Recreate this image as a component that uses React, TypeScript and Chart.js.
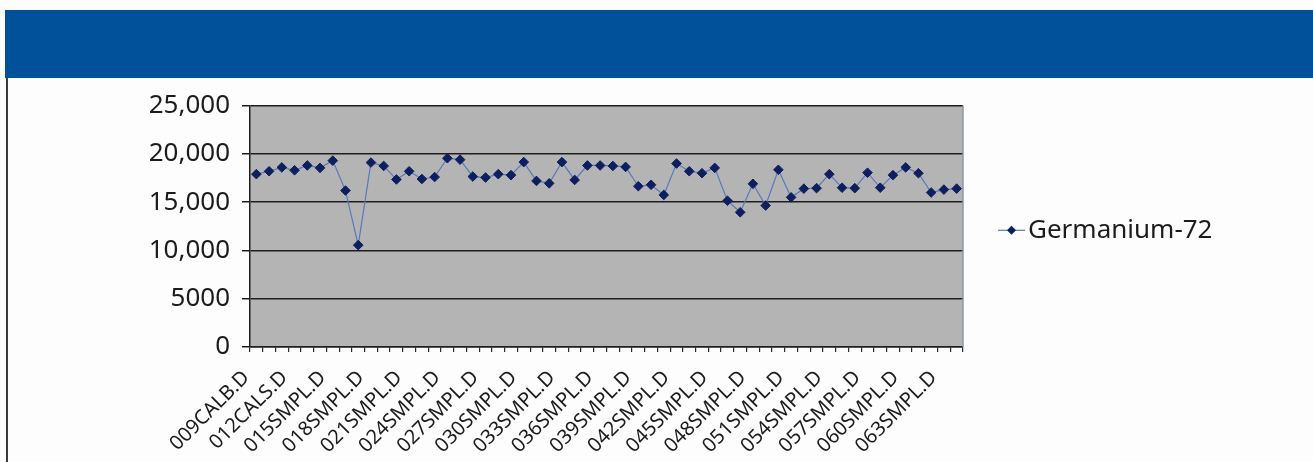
import React, { useEffect, useRef } from "react";
import { Chart, registerables } from "chart.js";

Chart.register(...registerables);

const seriesName = "Germanium-72";

const categories = [
  "009CALB.D", "010CALB.D", "011CALB.D", "012CALS.D", "013CALS.D", "014CALS.D",
  "015SMPL.D", "016SMPL.D", "017SMPL.D", "018SMPL.D", "019SMPL.D", "020SMPL.D",
  "021SMPL.D", "022SMPL.D", "023SMPL.D", "024SMPL.D", "025SMPL.D", "026SMPL.D",
  "027SMPL.D", "028SMPL.D", "029SMPL.D", "030SMPL.D", "031SMPL.D", "032SMPL.D",
  "033SMPL.D", "034SMPL.D", "035SMPL.D", "036SMPL.D", "037SMPL.D", "038SMPL.D",
  "039SMPL.D", "040SMPL.D", "041SMPL.D", "042SMPL.D", "043SMPL.D", "044SMPL.D",
  "045SMPL.D", "046SMPL.D", "047SMPL.D", "048SMPL.D", "049SMPL.D", "050SMPL.D",
  "051SMPL.D", "052SMPL.D", "053SMPL.D", "054SMPL.D", "055SMPL.D", "056SMPL.D",
  "057SMPL.D", "058SMPL.D", "059SMPL.D", "060SMPL.D", "061SMPL.D", "062SMPL.D",
  "063SMPL.D", "064SMPL.D",
];

const germanium72 = [
  17900, 18200, 18600, 18300, 18800, 18550, 19300, 16200, 10550, 19100,
  18750, 17350, 18200, 17400, 17600, 19550, 19400, 17650, 17550, 17900,
  17800, 19150, 17200, 16950, 19150, 17300, 18800, 18800, 18750, 18650,
  16650, 16800, 15750, 19000, 18200, 18000, 18550, 15150, 13950, 16900,
  14650, 18350, 15500, 16400, 16450, 17900, 16500, 16450, 18050, 16500,
  17800, 18600, 18000, 16000, 16300, 16400,
];

const yTickValues = [0, 5000, 10000, 15000, 20000, 25000];
const yTickLabels = ["0", "5000", "10,000", "15,000", "20,000", "25,000"];

const FONT = "'Noto Sans', 'Open Sans', sans-serif";
const TEXT = "#1c1c1c";
const LINE_COLOR = "#5a78bc";
const MARKER_COLOR = "#0d1f5e";

const plotBg = {
  id: "plotBg",
  beforeDraw(chart: any) {
    const { ctx, chartArea } = chart;
    ctx.save();
    ctx.fillStyle = "#b4b4b4";
    ctx.fillRect(chartArea.left, chartArea.top, chartArea.right - chartArea.left, chartArea.bottom - chartArea.top);
    ctx.restore();
  },
  beforeDatasetsDraw(chart: any) {
    const { ctx, chartArea } = chart;
    ctx.save();
    ctx.strokeStyle = "#8a98a6";
    ctx.lineWidth = 1.5;
    ctx.beginPath();
    ctx.moveTo(chartArea.right, chartArea.top);
    ctx.lineTo(chartArea.right, chartArea.bottom);
    ctx.stroke();
    ctx.restore();
  },
};

const customLegend = {
  id: "customLegend",
  afterDraw(chart: any) {
    const { ctx, chartArea } = chart;
    const cy = (chartArea.top + chartArea.bottom) / 2 + 4;
    const x0 = chartArea.right + 35;
    ctx.save();
    ctx.strokeStyle = LINE_COLOR;
    ctx.lineWidth = 1.2;
    ctx.beginPath();
    ctx.moveTo(x0, cy);
    ctx.lineTo(x0 + 27, cy);
    ctx.stroke();
    const mx = x0 + 13.5;
    const r = 4.5;
    ctx.fillStyle = MARKER_COLOR;
    ctx.beginPath();
    ctx.moveTo(mx, cy - r);
    ctx.lineTo(mx + r, cy);
    ctx.lineTo(mx, cy + r);
    ctx.lineTo(mx - r, cy);
    ctx.closePath();
    ctx.fill();
    ctx.fillStyle = TEXT;
    ctx.font = `26px ${FONT}`;
    ctx.textAlign = "left";
    ctx.textBaseline = "middle";
    ctx.fillText(seriesName, x0 + 30, cy);
    ctx.restore();
  },
};

export default function App() {
  const canvasRef = useRef<HTMLCanvasElement | null>(null);

  useEffect(() => {
    document.body.style.margin = "0";
    const canvas = canvasRef.current;
    if (!canvas) return;
    const chart = new Chart(canvas, {
      type: "line",
      data: {
        labels: categories,
        datasets: [
          {
            label: seriesName,
            data: germanium72,
            borderColor: LINE_COLOR,
            borderWidth: 1.2,
            backgroundColor: MARKER_COLOR,
            pointStyle: "rectRot",
            pointRadius: 4.8,
            pointBackgroundColor: MARKER_COLOR,
            pointBorderColor: MARKER_COLOR,
            pointBorderWidth: 1,
            tension: 0,
            fill: false,
          },
        ],
      },
      options: {
        animation: false,
        responsive: false,
        devicePixelRatio: 1,
        layout: { padding: { top: 22, right: 350, left: 0, bottom: 0 } },
        plugins: {
          legend: { display: false },
          tooltip: { enabled: false },
        },
        scales: {
          x: {
            type: "category",
            offset: true,
            grid: {
              offset: true,
              drawOnChartArea: false,
              drawTicks: true,
              tickLength: 5,
              color: "#2a2a2a",
              lineWidth: 1.2,
            },
            border: { display: true, color: "#1e1e1e", width: 1.5 },
            ticks: {
              autoSkip: false,
              minRotation: 45,
              maxRotation: 45,
              padding: 14,
              labelOffset: -10,
              color: TEXT,
              font: { family: FONT, size: 20 },
              callback: (_v: any, i: number) => (i % 3 === 0 ? categories[i] : ""),
            },
            afterFit: (scale: any) => {
              scale.height = 115;
            },
          },
          y: {
            min: 0,
            max: 25000,
            afterBuildTicks: (scale: any) => {
              scale.ticks = yTickValues.map((v) => ({ value: v }));
            },
            grid: {
              color: "#1e1e1e",
              lineWidth: 1.5,
              drawTicks: true,
              tickLength: 8,
            },
            border: { display: true, color: "#1e1e1e", width: 1.5 },
            ticks: {
              padding: 12,
              color: TEXT,
              font: { family: FONT, size: 26 },
              callback: (v: any) => {
                const idx = yTickValues.indexOf(Number(v));
                return idx >= 0 ? yTickLabels[idx] : "";
              },
            },
            afterFit: (scale: any) => {
              scale.width = 242;
            },
          },
        },
      },
      plugins: [plotBg, customLegend],
    });
    return () => chart.destroy();
  }, []);

  return (
    <div style={{ position: "absolute", left: 0, top: 0, width: 1313, height: 462, background: "#fdfdfe", overflow: "hidden" }}>
      <div style={{ position: "absolute", left: 5, top: 10, width: 1308, height: 68, background: "#00509a" }} />
      <div style={{ position: "absolute", left: 6, top: 78, width: 1.5, height: 384, background: "#3a3a3a" }} />
      <canvas
        ref={canvasRef}
        width={1305}
        height={384}
        style={{ position: "absolute", left: 8, top: 78, width: 1305, height: 384 }}
      />
    </div>
  );
}
